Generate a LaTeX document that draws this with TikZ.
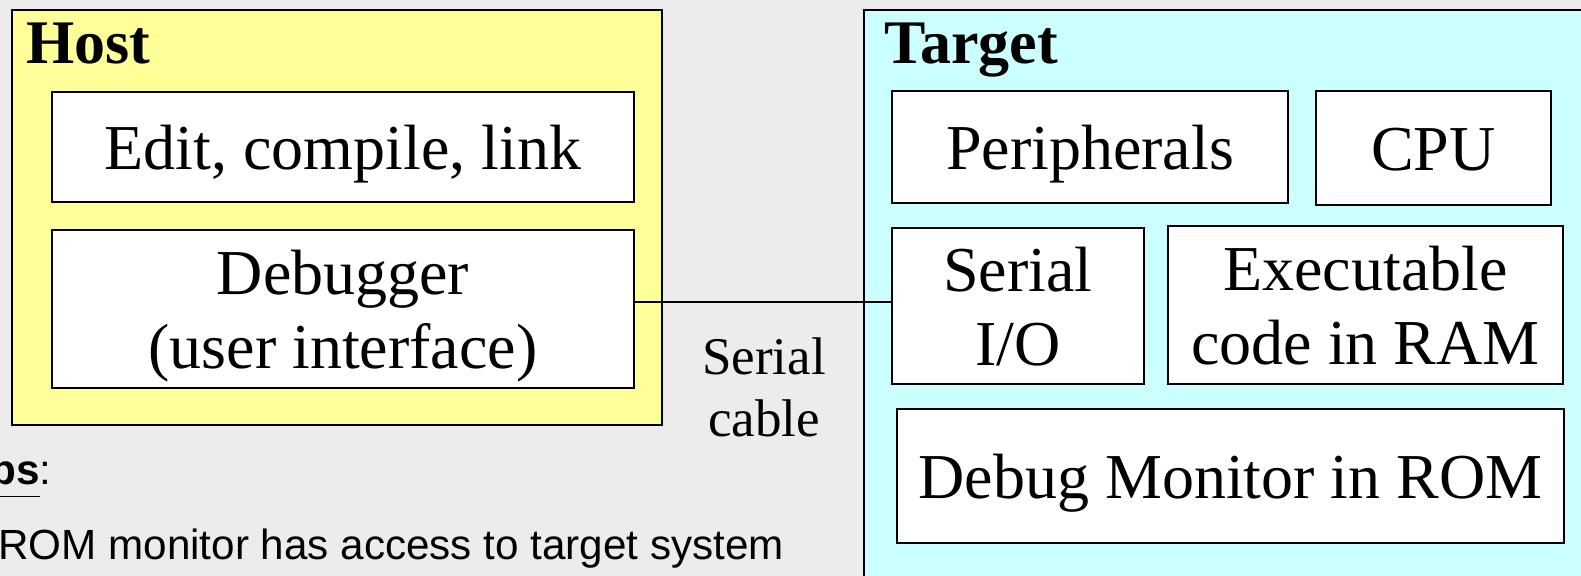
\documentclass[tikz,border=0pt]{standalone}
\usepackage{fontspec}
\setmainfont{Liberation Serif}
\newfontfamily\arialfont{Liberation Sans}
\definecolor{hostfill}{HTML}{FFFF99}
\definecolor{targetfill}{HTML}{CCFFFF}
\definecolor{bgfill}{HTML}{ECECEC}
\tikzset{
  panel/.style={draw=black, line width=1pt, inner sep=0pt},
  hostpanel/.style={panel, fill=hostfill},
  targetpanel/.style={panel, fill=targetfill},
  unit/.style={draw=black, line width=1pt, fill=white, inner sep=0pt,
    align=center, font=\fontsize{32}{37}\selectfont},
  oneline/.style={unit, text height=23pt, text depth=0pt},
  twoline/.style={unit, text height=60pt, text depth=0pt},
  heading/.style={inner sep=0pt, anchor=base west, font=\fontsize{31}{36}\selectfont\bfseries},
  cablelabel/.style={inner sep=0pt, anchor=north, align=center, font=\fontsize{26.5}{31}\selectfont},
  notetext/.style={inner sep=0pt, anchor=base west, font=\arialfont\fontsize{21.1}{24}\selectfont},
  link/.style={draw=black, line width=1pt}
}
\begin{document}
\begin{tikzpicture}[x=0.5pt,y=-0.5pt]
\useasboundingbox (0,0) rectangle (1581,576);
\clip (0,0) rectangle (1581,576);
\fill[bgfill] (0,0) rectangle (1581,576);

% Host panel
\node[hostpanel, minimum width=325pt, minimum height=207.5pt] (host) at (337,217.5) {};
\node[heading] (hostlabel) at (26,64) {Host};
\node[oneline, minimum width=291pt, minimum height=55pt] (edit) at (343,147) {Edit, compile, link};
\node[twoline, minimum width=291pt, minimum height=79pt] (dbg) at (343,309) {Debugger\\(user interface)};

% Target panel
\node[targetpanel, minimum width=368pt, minimum height=295pt] (target) at (1232,305) {};
\node[heading] (targetlabel) at (884,64) {Target};
\node[oneline, minimum width=198pt, minimum height=56pt] (periph) at (1090,147) {Peripherals};
\node[oneline, minimum width=117.5pt, minimum height=57pt] (cpu) at (1433.5,148) {CPU};
\node[twoline, minimum width=126pt, minimum height=78pt] (sio) at (1018,306) {Serial\\I/O};
\node[twoline, minimum width=197.5pt, minimum height=79pt] (exe) at (1365.5,305) {Executable\\code in RAM};
\node[oneline, minimum width=333.5pt, minimum height=67pt] (mon) at (1230.5,476) {Debug Monitor in ROM};

% Serial cable
\draw[link] ([yshift=2pt]sio.west) -- ([yshift=2pt]sio.west -| dbg.east);
\node[cablelabel] (cable) at (764,337) {Serial\\cable};

% Notes (cropped)
\node[inner sep=0pt, anchor=base east, font=\arialfont\fontsize{21.1}{24}\selectfont] (tips) at (52,485) {\textbf{\underline{Tips}}:};
\node[notetext] (note) at (-2,560) {ROM monitor has access to target system};
\end{tikzpicture}
\end{document}
